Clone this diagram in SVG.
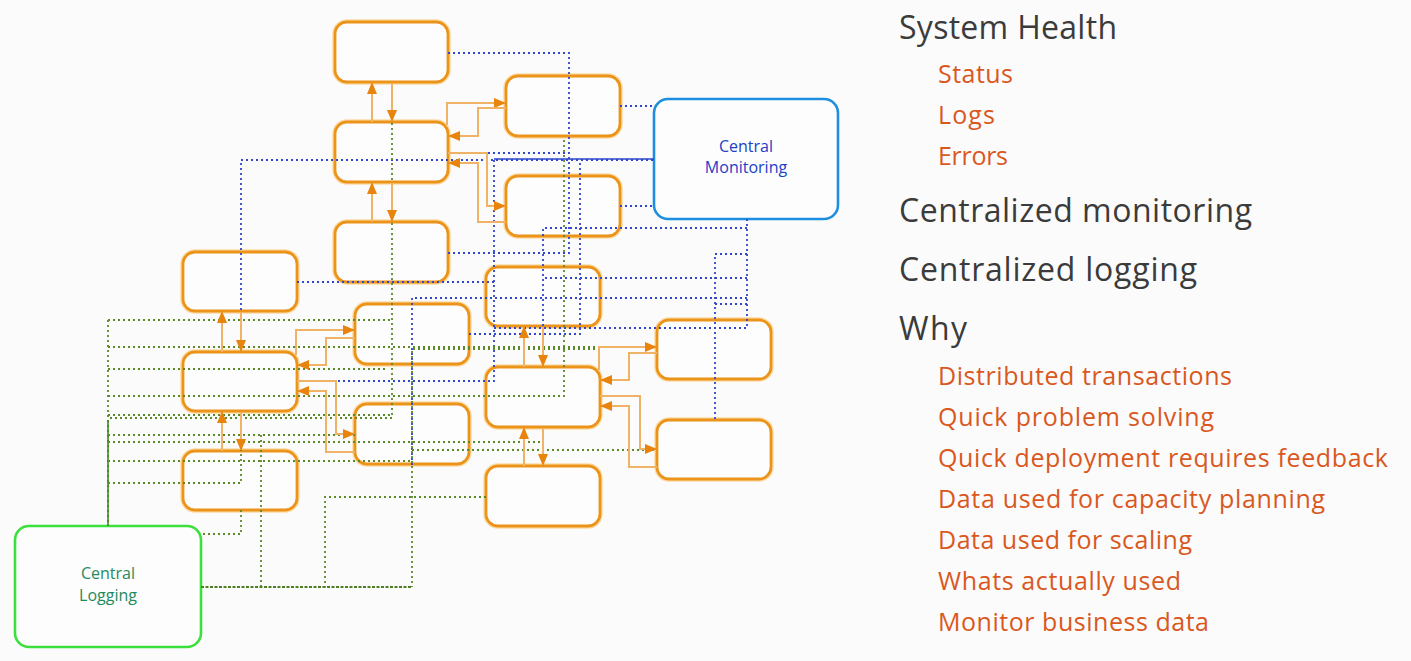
<svg xmlns="http://www.w3.org/2000/svg" width="1411" height="661" viewBox="0 0 1411 661">
<style>
.bg{fill:#fbfbfb}
.nodeglow{fill:none;stroke:#fbdca8;stroke-width:5.5}
.node{fill:#fdfdfd;stroke:#eb9419;stroke-width:2.8}
.mon{fill:none;stroke:#3046cc;stroke-width:1.8;stroke-dasharray:2 3}
.log{fill:none;stroke:#5a8a28;stroke-width:1.8;stroke-dasharray:2 3}
.arr{fill:none;stroke:#f0b266;stroke-width:2}
.h{font-family:"Open Sans","Liberation Sans",sans-serif;font-size:32px;fill:#3b3b3b}
.s{font-family:"Open Sans","Liberation Sans",sans-serif;font-size:25px;fill:#d9581e}
.lbl{font-family:"Open Sans","Liberation Sans",sans-serif;font-size:16px;text-anchor:middle}
</style>
<defs>
<marker id="ah" viewBox="0 0 12 10" refX="11" refY="5" markerWidth="12" markerHeight="10" markerUnits="userSpaceOnUse" orient="auto">
<path d="M0,0 L12,5 L0,10 Z" fill="#e8830c"/>
</marker>
</defs>
<rect class="bg" x="0" y="0" width="1411" height="661"/>

<g id="node-a"><rect class="nodeglow" x="335" y="22" width="113" height="60" rx="12"/><rect class="node" x="335" y="22" width="113" height="60" rx="12"/></g>
<g id="node-b"><rect class="nodeglow" x="335" y="122" width="113" height="60" rx="12"/><rect class="node" x="335" y="122" width="113" height="60" rx="12"/></g>
<g id="node-c"><rect class="nodeglow" x="335" y="222" width="113" height="60" rx="12"/><rect class="node" x="335" y="222" width="113" height="60" rx="12"/></g>
<g id="node-d"><rect class="nodeglow" x="506" y="76" width="114" height="60" rx="12"/><rect class="node" x="506" y="76" width="114" height="60" rx="12"/></g>
<g id="node-e"><rect class="nodeglow" x="506" y="176" width="114" height="60" rx="12"/><rect class="node" x="506" y="176" width="114" height="60" rx="12"/></g>
<g id="node-f"><rect class="nodeglow" x="183" y="252" width="114" height="59" rx="12"/><rect class="node" x="183" y="252" width="114" height="59" rx="12"/></g>
<g id="node-g"><rect class="nodeglow" x="183" y="352" width="114" height="59" rx="12"/><rect class="node" x="183" y="352" width="114" height="59" rx="12"/></g>
<g id="node-h"><rect class="nodeglow" x="183" y="451" width="114" height="59" rx="12"/><rect class="node" x="183" y="451" width="114" height="59" rx="12"/></g>
<g id="node-i"><rect class="nodeglow" x="355" y="304" width="114" height="60" rx="12"/><rect class="node" x="355" y="304" width="114" height="60" rx="12"/></g>
<g id="node-j"><rect class="nodeglow" x="355" y="404" width="114" height="60" rx="12"/><rect class="node" x="355" y="404" width="114" height="60" rx="12"/></g>
<g id="node-k"><rect class="nodeglow" x="486" y="267" width="114" height="59" rx="12"/><rect class="node" x="486" y="267" width="114" height="59" rx="12"/></g>
<g id="node-l"><rect class="nodeglow" x="486" y="367" width="114" height="60" rx="12"/><rect class="node" x="486" y="367" width="114" height="60" rx="12"/></g>
<g id="node-m"><rect class="nodeglow" x="486" y="466" width="114" height="60" rx="12"/><rect class="node" x="486" y="466" width="114" height="60" rx="12"/></g>
<g id="node-n"><rect class="nodeglow" x="657" y="320" width="114" height="59" rx="12"/><rect class="node" x="657" y="320" width="114" height="59" rx="12"/></g>
<g id="node-o"><rect class="nodeglow" x="657" y="420" width="114" height="59" rx="12"/><rect class="node" x="657" y="420" width="114" height="59" rx="12"/></g>

<g id="central-monitoring">
<rect x="654" y="99" width="184" height="120" rx="14" fill="#fdfdfd" stroke="#1e8fe0" stroke-width="2.6"/>
<text class="lbl" x="746" y="152" fill="#2140c8">Central</text>
<text class="lbl" x="746" y="173" fill="#2140c8">Monitoring</text>
</g>
<g id="central-logging">
<rect x="15" y="526" width="186" height="121" rx="14" fill="#fdfdfd" stroke="#3ce03c" stroke-width="2.6"/>
<text class="lbl" x="108" y="579" fill="#1f8a5c">Central</text>
<text class="lbl" x="108" y="601" fill="#1f8a5c">Logging</text>
</g>

<g id="connectors">
<!-- monitoring (blue dotted) -->
<path class="mon" d="M448,53 H569 V253 H448"/>
<path class="mon" d="M448,153 H569"/>
<path class="mon" d="M620,106 H654"/>
<path class="mon" d="M620,206 H654"/>
<path class="mon" d="M241,350 V160 H654"/>
<path d="M494,159 H654" fill="none" stroke="#2c47cc" stroke-width="1.3"/>
<path class="mon" d="M494,160 V381 H297"/>
<path class="mon" d="M297,282 H494"/>
<path class="mon" d="M469,334 H580 V160"/>
<path class="mon" d="M412,465 V298 H747"/>
<path class="mon" d="M747,219 V328 H493"/>
<path class="mon" d="M747,228 H543 V366"/>
<path class="mon" d="M747,278 H543"/>
<path class="mon" d="M747,254 H715 V420"/>
<path class="mon" d="M747,304 H715"/>
<!-- logging (green dotted) -->
<path class="log" d="M392,83 V418 H108"/>
<path class="log" d="M108,320 H392"/>
<path class="log" d="M108,320 V526"/>
<path d="M108,420 V526" fill="none" stroke="#3f8a1e" stroke-width="1.6"/>
<path class="log" d="M108,347 H657"/>
<path class="log" d="M108,369 H385"/>
<path class="log" d="M108,396 H564 V137"/>
<path class="log" d="M108,415 H392"/>
<path class="log" d="M108,435 H355"/>
<path class="log" d="M261,435 V587"/>
<path class="log" d="M108,442 H543"/>
<path class="log" d="M108,461 H412"/>
<path class="log" d="M108,483 H241 V412"/>
<path class="log" d="M600,349 H412 V587"/>
<path class="log" d="M412,450 H657"/>
<path class="log" d="M486,497 H325 V587"/>
<path class="log" d="M241,510 V534 H201"/>
<path d="M201,587 H412" fill="none" stroke="#4f7f22" stroke-width="2" stroke-dasharray="3 1.5"/>
<!-- orange arrows: A-B-C column -->
<path class="arr" d="M372,122 V83" marker-end="url(#ah)"/>
<path class="arr" d="M392,83 V121" marker-end="url(#ah)"/>
<path class="arr" d="M372,222 V183" marker-end="url(#ah)"/>
<path class="arr" d="M392,183 V221" marker-end="url(#ah)"/>
<path class="arr" d="M447,125 V103 H505" marker-end="url(#ah)"/>
<path class="arr" d="M506,108 H478 V136 H449" marker-end="url(#ah)"/>
<path class="arr" d="M448,153 H487 V206 H505" marker-end="url(#ah)"/>
<path class="arr" d="M506,222 H478 V163 H449" marker-end="url(#ah)"/>
<!-- F-G-H column -->
<path class="arr" d="M222,352 V312" marker-end="url(#ah)"/>
<path class="arr" d="M241,312 V351" marker-end="url(#ah)"/>
<path class="arr" d="M222,451 V412" marker-end="url(#ah)"/>
<path class="arr" d="M241,412 V450" marker-end="url(#ah)"/>
<path class="arr" d="M296,355 V330 H354" marker-end="url(#ah)"/>
<path class="arr" d="M355,338 H326 V365 H298" marker-end="url(#ah)"/>
<path class="arr" d="M297,381 H336 V434 H354" marker-end="url(#ah)"/>
<path class="arr" d="M355,452 H326 V391 H298" marker-end="url(#ah)"/>
<!-- K-L-M column -->
<path class="arr" d="M524,367 V327" marker-end="url(#ah)"/>
<path class="arr" d="M543,327 V366" marker-end="url(#ah)"/>
<path class="arr" d="M524,466 V428" marker-end="url(#ah)"/>
<path class="arr" d="M543,428 V465" marker-end="url(#ah)"/>
<path class="arr" d="M599,370 V347 H656" marker-end="url(#ah)"/>
<path class="arr" d="M657,353 H629 V380 H601" marker-end="url(#ah)"/>
<path class="arr" d="M600,396 H640 V449 H656" marker-end="url(#ah)"/>
<path class="arr" d="M657,467 H629 V406 H601" marker-end="url(#ah)"/>
</g>

<g id="text-list">
<text class="h" x="899" y="39" textLength="218">System Health</text>
<text class="s" x="938" y="83" textLength="75">Status</text>
<text class="s" x="938" y="124" textLength="57">Logs</text>
<text class="s" x="938" y="165" textLength="70">Errors</text>
<text class="h" x="899" y="222" textLength="353">Centralized monitoring</text>
<text class="h" x="899" y="281" textLength="298">Centralized logging</text>
<text class="h" x="899" y="340" textLength="68">Why</text>
<text class="s" x="938" y="385" textLength="294">Distributed transactions</text>
<text class="s" x="938" y="426" textLength="276">Quick problem solving</text>
<text class="s" x="938" y="467" textLength="450">Quick deployment requires feedback</text>
<text class="s" x="938" y="508" textLength="387">Data used for capacity planning</text>
<text class="s" x="938" y="549" textLength="254">Data used for scaling</text>
<text class="s" x="938" y="590" textLength="243">Whats actually used</text>
<text class="s" x="938" y="631" textLength="271">Monitor business data</text>
</g>
</svg>
